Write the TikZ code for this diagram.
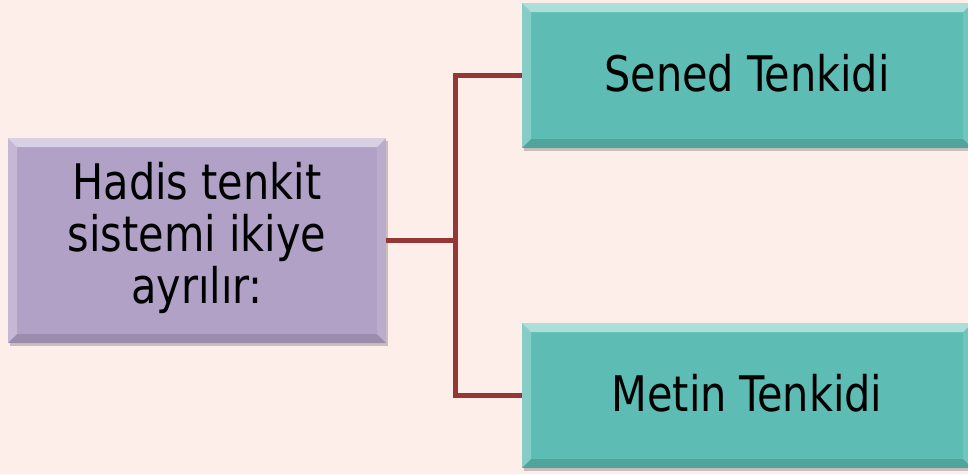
\documentclass[tikz,border=0pt]{standalone}
\usepackage{fontspec}
\setmainfont{DejaVu Sans Condensed}[FakeStretch=0.94]
\usetikzlibrary{shadows}
\definecolor{bgc}{HTML}{FDEEE9}
\definecolor{lav}{HTML}{B2A1C7}
\definecolor{teal}{HTML}{5DBDB4}
\definecolor{conn}{HTML}{953735}
\tikzset{
  bevelled/.style={path picture={
    \fill[white,opacity=0.5] (path picture bounding box.north west) -- (path picture bounding box.north east) -- ([xshift=-9pt,yshift=-9pt]path picture bounding box.north east) -- ([xshift=9pt,yshift=-9pt]path picture bounding box.north west) -- cycle;
    \fill[white,opacity=0.25] (path picture bounding box.north west) -- ([xshift=9pt,yshift=-9pt]path picture bounding box.north west) -- ([xshift=9pt,yshift=9pt]path picture bounding box.south west) -- (path picture bounding box.south west) -- cycle;
    \fill[black,opacity=0.13] (path picture bounding box.south west) -- (path picture bounding box.south east) -- ([xshift=-9pt,yshift=9pt]path picture bounding box.south east) -- ([xshift=9pt,yshift=9pt]path picture bounding box.south west) -- cycle;
    \fill[white,opacity=0.12] (path picture bounding box.north east) -- ([xshift=-9pt,yshift=-9pt]path picture bounding box.north east) -- ([xshift=-9pt,yshift=9pt]path picture bounding box.south east) -- (path picture bounding box.south east) -- cycle;
  }},
  boxbase/.style={bevelled, inner sep=0pt, align=center, font=\fontsize{49}{50.5}\selectfont,
    drop shadow={shadow xshift=2pt, shadow yshift=-3pt, opacity=0.35, fill=black!60}},
  leftbox/.style={boxbase, fill=lav, minimum width=378pt, minimum height=205pt},
  rightbox/.style={boxbase, fill=teal, minimum width=450pt, minimum height=145pt},
  link/.style={draw=conn, line width=5pt}
}
\begin{document}
\begin{tikzpicture}[x=1pt,y=-1pt]
\fill[bgc] (0,0) rectangle (968,474);
\useasboundingbox (0,0) rectangle (968,474);
\node[leftbox] (L) at (197,240.5) {\raisebox{2pt}{\begin{tabular}{@{}c@{}}Hadis tenkit\\sistemi ikiye\\ayrılır:\end{tabular}}};
\node[rightbox] (U) at (747,75.5) {\raisebox{5pt}{Sened Tenkidi}};
\node[rightbox] (D) at (747,395.5) {\raisebox{5pt}{Metin Tenkidi}};
\coordinate (J) at (455,240.5);
\draw[link] (L.east) -- (J);
\draw[link] (U.west) -| (J) |- (D.west);
\end{tikzpicture}
\end{document}
